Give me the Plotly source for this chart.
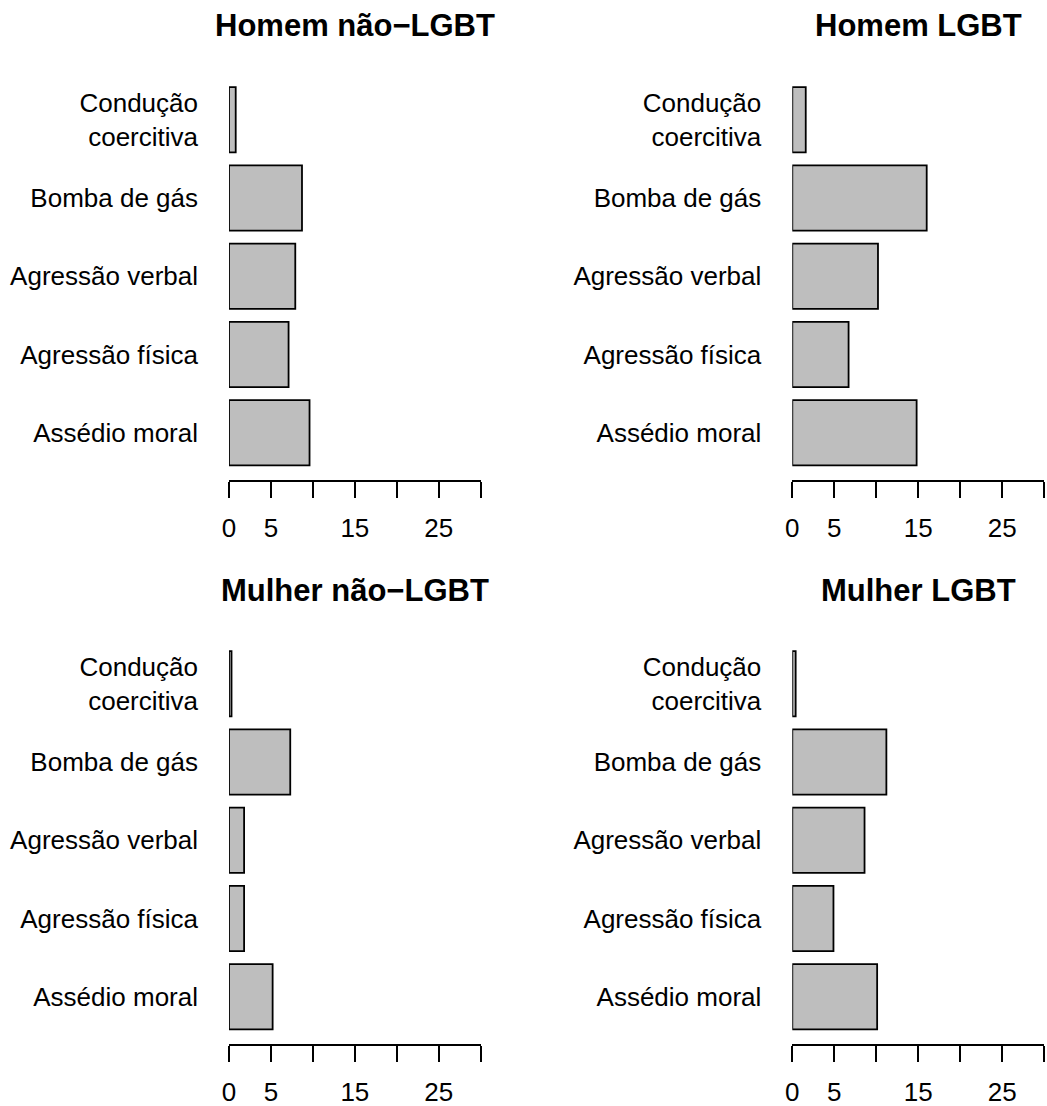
import plotly.graph_objects as go

# ---- data ----
categories = ["Assédio moral", "Agressão física", "Agressão verbal", "Bomba de gás", "Condução<br>coercitiva"]
bar_pos = [0.7, 1.9, 3.1, 4.3, 5.5]
homem_nao_lgbt = [9.6, 7.1, 7.9, 8.7, 0.8]
homem_lgbt = [14.8, 6.7, 10.2, 16.0, 1.6]
mulher_nao_lgbt = [5.2, 1.8, 1.8, 7.3, 0.3]
mulher_lgbt = [10.1, 4.9, 8.6, 11.2, 0.4]
titles = ["Homem não−LGBT", "Homem LGBT", "Mulher não−LGBT", "Mulher LGBT"]
x_tickvals = [0, 5, 10, 15, 20, 25, 30]
x_ticktext = ["0", "5", "", "15", "", "25", ""]

W, H = 1047, 1106
FONT = "Liberation Sans, Arial, sans-serif"

series = [homem_nao_lgbt, homem_lgbt, mulher_nao_lgbt, mulher_lgbt]
# pixel boxes: (x0, x1, ytop, ybottom)
boxes = [
    (229.0, 480.7, 70, 480),
    (792.3, 1044.3, 70, 480),
    (229.0, 480.7, 634, 1044),
    (792.3, 1044.3, 634, 1044),
]
title_y = [26, 26, 590, 590]

fig = go.Figure()
layout = dict(
    width=W, height=H,
    margin=dict(l=0, r=0, t=0, b=0, pad=0),
    paper_bgcolor="white", plot_bgcolor="white",
    showlegend=False,
    font=dict(family=FONT, size=26, color="black"),
    annotations=[],
)

for i, (vals, box) in enumerate(zip(series, boxes)):
    n = i + 1
    xa = "x" if n == 1 else f"x{n}"
    ya = "y" if n == 1 else f"y{n}"
    fig.add_trace(go.Bar(
        x=vals, y=bar_pos, orientation="h", width=1.0,
        marker=dict(color="#BEBEBE", line=dict(color="black", width=1.8)),
        xaxis=xa, yaxis=ya, hoverinfo="x",
    ))
    x0, x1, yt, yb = box
    xkey = "xaxis" if n == 1 else f"xaxis{n}"
    ykey = "yaxis" if n == 1 else f"yaxis{n}"
    layout[xkey] = dict(
        domain=[x0 / W, x1 / W], anchor=ya, range=[0, 30], automargin=False,
        showline=True, linecolor="black", linewidth=1.8,
        ticks="outside", ticklen=16, tickwidth=1.8, tickcolor="black",
        tickvals=x_tickvals, ticktext=x_ticktext,
        showgrid=False, zeroline=False, ticklabelstandoff=8,
        tickfont=dict(family=FONT, size=26, color="black"),
    )
    layout[ykey] = dict(
        domain=[1 - yb / H, 1 - yt / H], anchor=xa, range=[-0.025, 6.263], automargin=False,
        showline=False, showgrid=False, zeroline=False, ticks="",
        tickvals=bar_pos, ticktext=categories, ticklabelstandoff=30,
        tickfont=dict(family=FONT, size=26, color="black"),
    )
    layout["annotations"].append(dict(
        text=f"<b>{titles[i]}</b>", x=(x0 + x1) / 2 / W, y=1 - title_y[i] / H,
        xref="paper", yref="paper", xanchor="center", yanchor="middle",
        showarrow=False, font=dict(family=FONT, size=31, color="black"),
    ))

fig.update_layout(**layout)
fig.write_html(
    "out.html",
    config={"displayModeBar": False},
    post_script="document.body.style.margin='0';document.body.style.padding='0';document.body.style.overflow='hidden';document.documentElement.style.overflow='hidden';",
)
